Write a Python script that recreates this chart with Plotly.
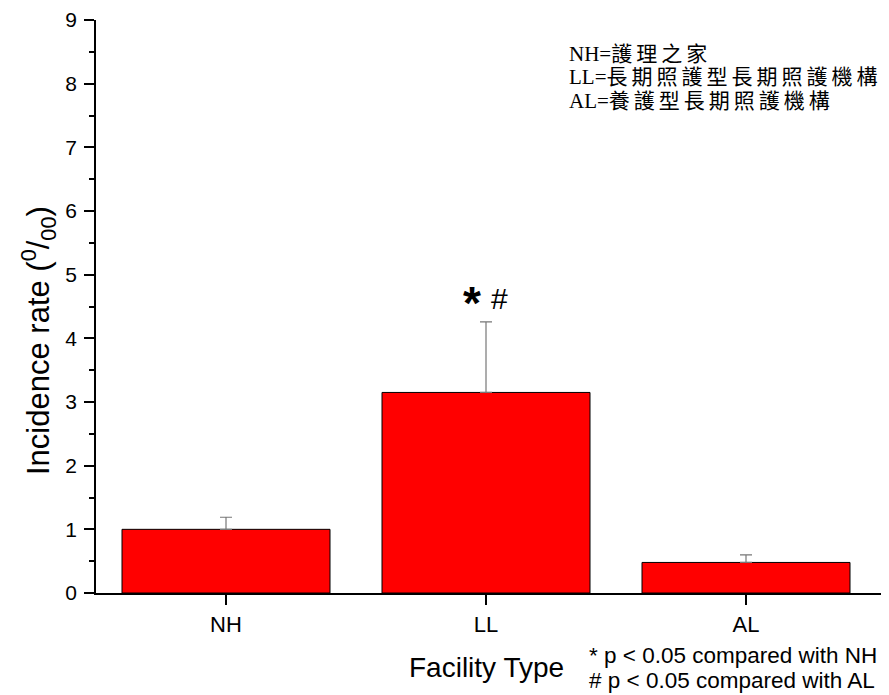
import plotly.graph_objects as go

categories = ["NH", "LL", "AL"]
rates = [1.0, 3.15, 0.48]
errors_up = [0.19, 1.11, 0.12]
y_ticks = [0, 1, 2, 3, 4, 5, 6, 7, 8, 9]
legend_keys = ["NH=", "LL=", "AL="]
legend_names = ["護理之家", "長期照護型長期照護機構", "養護型長期照護機構"]
note_lines = ["* p < 0.05 compared with NH", "# p < 0.05 compared with AL"]

SANS = "Liberation Sans, Arial, sans-serif"

fig = go.Figure()
fig.add_trace(go.Bar(
    x=categories, y=rates, width=0.8,
    marker=dict(color="#ff0000", line=dict(color="black", width=1)),
    error_y=dict(type="data", symmetric=False, array=errors_up,
                 arrayminus=[0, 0, 0], color="#777777", thickness=1.2, width=6),
    showlegend=False,
))

# page body has an 8px margin; figure fills the rest of the 889x695 window
OFF = 8
W, H = 889 - OFF, 695 - OFF
L, R, T, B = 96 - OFF, 0, 20 - OFF, 102
pw, ph = W - L - R, H - T - B

def px(xp):
    return (xp - OFF - L) / pw

def py(yp):
    return (H - B - (yp - OFF)) / ph

annotations = []
# legend text (top right), one block of three lines
legend_text = "<br>".join(
    f'<span style="font-family:Liberation Serif;font-size:21px">{k}</span>'
    f'<span style="font-size:21px;letter-spacing:4px">{n}</span>'
    for k, n in zip(legend_keys, legend_names)
)
annotations.append(dict(
    text=legend_text, align="left",
    xref="paper", yref="paper", x=px(567), y=py(76),
    xanchor="left", yanchor="middle", showarrow=False,
    font=dict(family="Noto Sans CJK TC, Liberation Serif, serif", size=18, color="black"),
))
# significance marks above LL
annotations.append(dict(text="<b>*</b>", x="LL", y=4.63, xref="x", yref="y",
                        xshift=-14, yshift=-5, showarrow=False, yanchor="middle",
                        font=dict(family=SANS, size=46, color="black")))
annotations.append(dict(text="#", x="LL", y=4.63, xref="x", yref="y",
                        xshift=13, showarrow=False, yanchor="middle",
                        font=dict(family=SANS, size=30, color="black")))
# axis titles
annotations.append(dict(text="Facility Type", xref="paper", yref="paper",
                        x=px(486), y=py(667), xanchor="center", yanchor="middle",
                        showarrow=False, font=dict(family=SANS, size=28, color="black")))
annotations.append(dict(text="Incidence rate (<sup>0</sup>/<sub>00</sub>)", xref="paper", yref="paper",
                        x=px(38), y=py(341), xanchor="center", yanchor="middle", textangle=-90,
                        showarrow=False, font=dict(family=SANS, size=31, color="black")))
# notes
for line, ycen in zip(note_lines, [655, 680]):
    annotations.append(dict(text=line, xref="paper", yref="paper",
                            x=px(587), y=py(ycen), xanchor="left", yanchor="middle",
                            showarrow=False, font=dict(family=SANS, size=22.5, color="black")))

fig.update_layout(
    width=W, height=H,
    margin=dict(l=L, r=R, t=T, b=B, pad=0),
    paper_bgcolor="white", plot_bgcolor="white",
    bargap=0.2,
    annotations=annotations,
    xaxis=dict(
        range=[-0.5, 2.55], showline=True, linecolor="black", linewidth=1.5,
        ticks="outside", ticklen=10, tickwidth=1.5, tickcolor="black",
        tickfont=dict(family=SANS, size=22, color="black"),
        showgrid=False, zeroline=False, fixedrange=True, ticklabelstandoff=1,
    ),
    yaxis=dict(
        range=[0, 9], tickvals=y_ticks, showline=True, linecolor="black", linewidth=1.5,
        ticks="outside", ticklen=10, tickwidth=1.5, tickcolor="black",
        tickfont=dict(family=SANS, size=21, color="black"),
        minor=dict(dtick=0.5, ticks="outside", ticklen=5, tickwidth=1.5, tickcolor="black", showgrid=False),
        showgrid=False, zeroline=False, ticklabelstandoff=3,
    ),
)

fig.write_html("out.html")
